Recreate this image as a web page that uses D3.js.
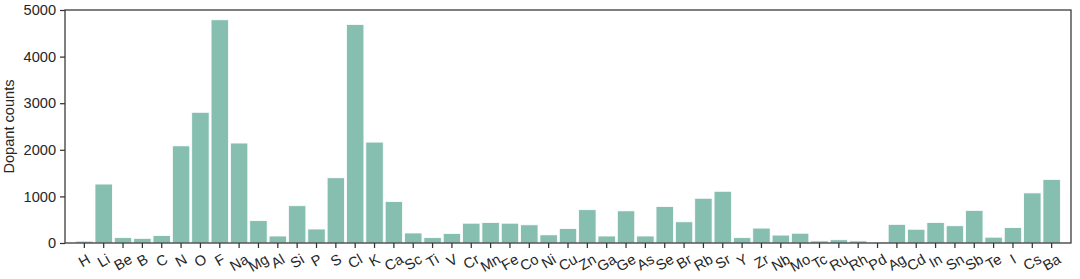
<!DOCTYPE html>
<html>
<head>
<meta charset="utf-8">
<script src="https://cdn.jsdelivr.net/npm/d3@7"></script>
<style>
  html, body { margin: 0; padding: 0; background: #fff; }
  svg { display: block; }
  text { font-family: "Liberation Sans", Arial, sans-serif; fill: #262626; }
</style>
</head>
<body>
<svg id="chart" width="1080" height="279"></svg>
<script>
const elements = ["H","Li","Be","B","C","N","O","F","Na","Mg","Al","Si","P","S","Cl","K","Ca","Sc","Ti","V","Cr","Mn","Fe","Co","Ni","Cu","Zn","Ga","Ge","As","Se","Br","Rb","Sr","Y","Zr","Nb","Mo","Tc","Ru","Rh","Pd","Ag","Cd","In","Sn","Sb","Te","I","Cs","Ba"];
const counts = [40,1265,115,100,160,2085,2805,4790,2145,480,150,800,300,1400,4690,2165,890,215,115,205,425,440,425,390,175,310,715,150,690,150,785,455,960,1110,115,320,170,210,45,70,45,20,400,295,440,370,700,125,330,1075,1365];
const yTicks = [0,1000,2000,3000,4000,5000];
const yLabel = "Dopant counts";

const svg = d3.select("#chart");
const L = 65, R = 1071, T = 10, B = 243;
const axisColor = "#333333";
const barColor = "#86bfb0";
const fs = 14.6;

const x = d3.scaleBand().domain(elements).range([L, R]).paddingInner(0).paddingOuter(0.5);
const y = d3.scaleLinear().domain([0, 5000]).range([B, T]);

const data = elements.map((e, i) => ({e, v: counts[i]}));
const bw = x.bandwidth() * 0.9;

svg.append("g").selectAll("rect").data(data).join("rect")
  .attr("x", d => x(d.e) + (x.bandwidth() - bw) / 2)
  .attr("y", d => y(d.v))
  .attr("width", bw)
  .attr("height", d => y(0) - y(d.v))
  .attr("fill", barColor)
  .attr("stroke", "#ffffff")
  .attr("stroke-width", 0.8);

// Y axis
const yAxis = svg.append("g").attr("transform", `translate(${L},0)`)
  .call(d3.axisLeft(y).tickValues(yTicks).tickSize(5).tickPadding(4).tickFormat(d3.format("d")));
yAxis.select(".domain").remove();
yAxis.selectAll("line").attr("stroke", axisColor).attr("stroke-width", 1.25);
yAxis.selectAll("text").style("font-size", fs + "px").attr("fill", "#262626");

// X axis
const xAxis = svg.append("g").attr("transform", `translate(0,${B})`)
  .call(d3.axisBottom(x).tickSize(5).tickFormat(""));
xAxis.select(".domain").remove();
xAxis.selectAll("line").attr("stroke", axisColor).attr("stroke-width", 1.25);

const labG = svg.append("g");
elements.forEach(e => {
  const cx = x(e) + x.bandwidth() / 2;
  const t = labG.append("text").text(e)
    .style("font-size", fs + "px")
    .attr("text-anchor", "middle")
    .attr("dominant-baseline", "central");
  const w = t.node().getComputedTextLength();
  const cy = B + 5 + 3.5 + (w * 0.5 + fs * 0.866) / 2;
  t.attr("transform", `translate(${cx},${cy}) rotate(-30)`);
});

// Frame
svg.append("rect").attr("x", L).attr("y", T).attr("width", R - L).attr("height", B - T)
  .attr("fill", "none").attr("stroke", axisColor).attr("stroke-width", 1.25);

// Y label
svg.append("text").text(yLabel)
  .style("font-size", fs + "px")
  .attr("text-anchor", "middle")
  .attr("transform", `translate(14,${(T + B) / 2}) rotate(-90)`);
</script>
</body>
</html>
